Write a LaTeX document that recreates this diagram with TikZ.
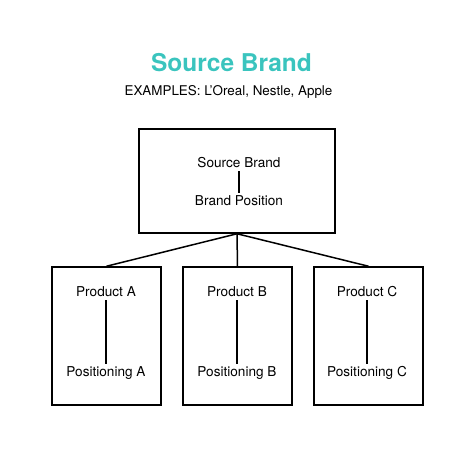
\documentclass[tikz,border=0pt]{standalone}
\usepackage{fontspec}
\setmainfont{TeX Gyre Heros}
\usetikzlibrary{positioning}
\definecolor{brandteal}{RGB}{58,196,190}

\begin{document}
\begin{tikzpicture}[x=1pt,y=-1pt,
  box/.style={draw,line width=1.5pt,minimum width=109pt,minimum height=138pt,inner sep=0pt},
  topbox/.style={box,minimum width=196pt,minimum height=104pt},
  lbl/.style={anchor=base,inner sep=2pt,text height=10pt,text depth=2pt,font=\fontsize{13.6}{16}\selectfont},
  link/.style={line width=1.5pt}]
\useasboundingbox (0,0) rectangle (474,452);
\node[font=\fontsize{24.5}{28}\selectfont\bfseries,text=brandteal] (title) at (231.5,63) {Source Brand};
\node[font=\fontsize{13.4}{16}\selectfont] (examples) at (228.5,92) {EXAMPLES: L’Oreal, Nestle, Apple};
\node[topbox] (src) at (237,181) {};
\node[lbl] (srcname) at (239,167) {Source Brand};
\node[lbl] (srcpos) at (239,205) {Brand Position};
\draw[link] (srcname) -- (srcpos);
\node[box] (prodA) at (106.5,336) {};
\node[box] (prodB) at (237.5,336) {};
\node[box] (prodC) at (368.5,336) {};
\draw[link] (src.south) -- (prodA.north);
\draw[link] (src.south) -- (prodB.north);
\draw[link] (src.south) -- (prodC.north);
\node[lbl] (nameA) at (106,296) {Product A};
\node[lbl] (posA) at (106,376) {Positioning A};
\draw[link] (nameA) -- (posA);
\node[lbl] (nameB) at (237,296) {Product B};
\node[lbl] (posB) at (237,376) {Positioning B};
\draw[link] (nameB) -- (posB);
\node[lbl] (nameC) at (367,296) {Product C};
\node[lbl] (posC) at (367,376) {Positioning C};
\draw[link] (nameC) -- (posC);
\end{tikzpicture}
\end{document}
